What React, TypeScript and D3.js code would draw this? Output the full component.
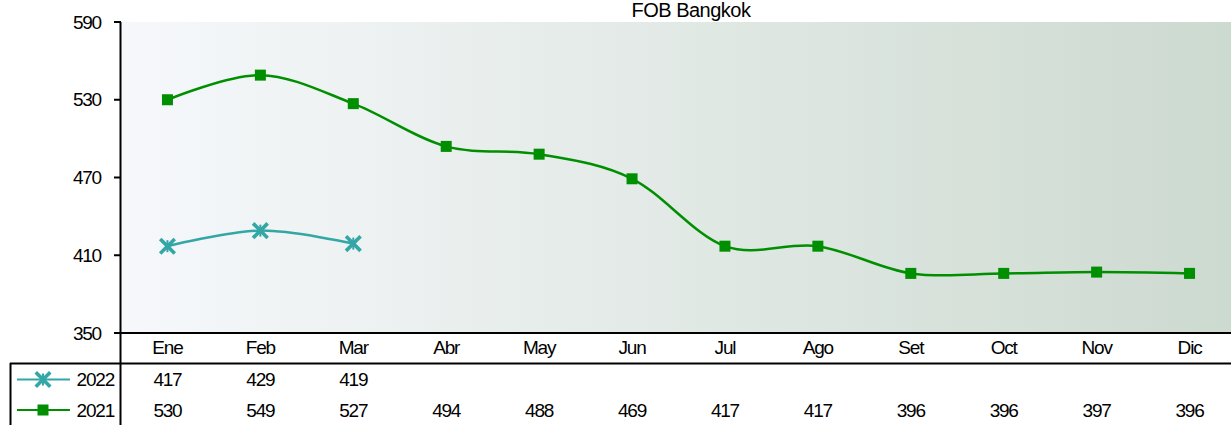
import React from 'react';
import * as d3 from 'd3';

const months = ['Ene', 'Feb', 'Mar', 'Abr', 'May', 'Jun', 'Jul', 'Ago', 'Set', 'Oct', 'Nov', 'Dic'];
const values2022 = [417, 429, 419];
const values2021 = [530, 549, 527, 494, 488, 469, 417, 417, 396, 396, 397, 396];
const yTicks = [350, 410, 470, 530, 590];

const WIDTH = 1231;
const HEIGHT = 425;
const LEFT = 121;
const RIGHT = 1231;
const TOP = 22;
const BOTTOM = 333;

const GREEN = '#008f00';
const TEAL = '#33a6a6';
const FONT = '"Liberation Sans", Arial, sans-serif';

function Square({ x, y }: { x: number; y: number }) {
  return <rect x={x - 5.5} y={y - 5.5} width={11} height={11} fill={GREEN} />;
}

function Star({ x, y }: { x: number; y: number }) {
  const s = 6;
  return (
    <g stroke={TEAL} strokeWidth={3.6} strokeLinecap="square">
      <line x1={x - s} y1={y - s} x2={x + s} y2={y + s} />
      <line x1={x - s} y1={y + s} x2={x + s} y2={y - s} />
      <line x1={x} y1={y - s + 1} x2={x} y2={y + s - 1} strokeWidth={2} />
    </g>
  );
}

export default function App() {
  // the plot runs a little past the right edge of the window
  const x = d3.scaleBand().domain(months).range([LEFT, 1236]);
  const y = d3.scaleLinear().domain([350, 590]).range([BOTTOM, TOP]);
  const cx = (m: string) => (x(m) as number) + x.bandwidth() / 2;

  const line = d3
    .line<number>()
    .x((_, i) => cx(months[i]))
    .y(d => y(d))
    .curve(d3.curveCatmullRom.alpha(0));

  const textStyle = { fontFamily: FONT, fontSize: 19, letterSpacing: '-1.2px', fill: '#000' };
  const rowY = [379.5, 410];

  return (
    <div style={{ position: 'absolute', left: 0, top: 0 }}>
      <svg width={WIDTH} height={HEIGHT}>
        <defs>
          <linearGradient id="bg" x1="0" x2="1" y1="0" y2="0">
            <stop offset="0%" stopColor="#f6f8fb" />
            <stop offset="100%" stopColor="#cddad0" />
          </linearGradient>
        </defs>
        <rect x={LEFT} y={TOP} width={RIGHT - LEFT} height={BOTTOM - TOP} fill="url(#bg)" />

        <text x={691} y={17} textAnchor="middle" style={{ ...textStyle, fontSize: 20, letterSpacing: '-0.5px' }}>FOB Bangkok</text>

        {/* y axis */}
        {yTicks.map(t => (
          <g key={t}>
            <line x1={114} x2={121} y1={y(t)} y2={y(t)} stroke="#000" strokeWidth={2} />
            <text x={101} y={y(t)} dy="0.35em" textAnchor="end" style={textStyle}>{t}</text>
          </g>
        ))}
        <line x1={120.5} x2={120.5} y1={TOP} y2={HEIGHT} stroke="#000" strokeWidth={2} />
        <line x1={114} x2={RIGHT} y1={BOTTOM} y2={BOTTOM} stroke="#000" strokeWidth={2} />

        {/* month labels */}
        {months.map(m => (
          <text key={m} x={cx(m)} y={347.5} dy="0.35em" textAnchor="middle" style={textStyle}>{m}</text>
        ))}

        {/* data table */}
        <line x1={10} x2={RIGHT} y1={363.5} y2={363.5} stroke="#000" strokeWidth={2} />
        <line x1={10.5} x2={10.5} y1={363} y2={HEIGHT} stroke="#000" strokeWidth={2} />

        <line x1={17} x2={70} y1={rowY[0]} y2={rowY[0]} stroke={TEAL} strokeWidth={2} />
        <Star x={43} y={rowY[0]} />
        <text x={114} y={rowY[0]} dy="0.35em" textAnchor="end" style={textStyle}>2022</text>
        <line x1={17} x2={70} y1={rowY[1]} y2={rowY[1]} stroke={GREEN} strokeWidth={2} />
        <Square x={43} y={rowY[1]} />
        <text x={114} y={rowY[1]} dy="0.35em" textAnchor="end" style={textStyle}>2021</text>

        {values2022.map((v, i) => (
          <text key={'a' + i} x={cx(months[i])} y={rowY[0]} dy="0.35em" textAnchor="middle" style={textStyle}>{v}</text>
        ))}
        {values2021.map((v, i) => (
          <text key={'b' + i} x={cx(months[i])} y={rowY[1]} dy="0.35em" textAnchor="middle" style={textStyle}>{v}</text>
        ))}

        {/* series */}
        <path d={line(values2021) || ''} fill="none" stroke={GREEN} strokeWidth={2.5} />
        {values2021.map((v, i) => <Square key={i} x={cx(months[i])} y={y(v)} />)}

        <path d={line(values2022) || ''} fill="none" stroke={TEAL} strokeWidth={2.5} />
        {values2022.map((v, i) => <Star key={i} x={cx(months[i])} y={y(v)} />)}
      </svg>
    </div>
  );
}
